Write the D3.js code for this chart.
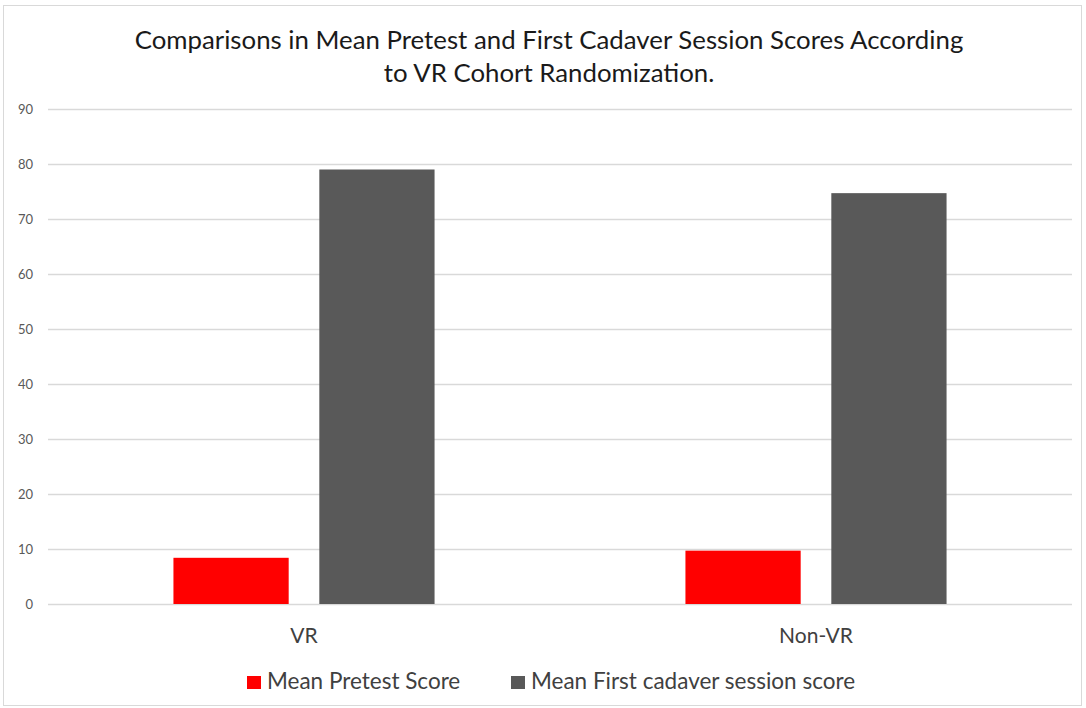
<!DOCTYPE html>
<html>
<head>
<meta charset="utf-8">
<script src="https://cdn.jsdelivr.net/npm/d3@7"></script>
<style>
  body { margin: 0; background: #fff; }
  text { font-family: Lato, "Open Sans", sans-serif; }
</style>
</head>
<body>
<div id="chart"></div>
<script>
// chart data
const groups = ["VR", "Non-VR"];
const seriesNames = ["Mean Pretest Score", "Mean First cadaver session score"];
const pretestScores = [8.4, 9.7];
const cadaverScores = [79.0, 74.7];
const yTicks = [0, 10, 20, 30, 40, 50, 60, 70, 80, 90];
const colors = ["#ff0000", "#595959"];

const width = 1086, height = 708;
const margin = {top: 109, right: 14, bottom: 104, left: 48};

const svg = d3.select('#chart').append('svg')
    .attr('width', width)
    .attr('height', height);

// outer chart frame
svg.append('rect')
    .attr('x', 3.5).attr('y', 5.5)
    .attr('width', 1078).attr('height', 700)
    .attr('fill', '#fff')
    .attr('stroke', '#d9d9d9');

const x0 = d3.scaleBand()
    .domain(groups)
    .range([margin.left, width - margin.right]);

const x1 = d3.scaleBand()
    .domain(seriesNames)
    .range([x0.bandwidth() * 0.245, x0.bandwidth() * 0.755])
    .paddingInner(0.21);

const y = d3.scaleLinear()
    .domain([0, 90])
    .range([height - margin.bottom, margin.top]);

// gridlines
svg.append('g')
    .selectAll('line')
    .data(yTicks)
    .enter().append('line')
    .attr('x1', margin.left)
    .attr('x2', width - margin.right)
    .attr('y1', d => y(d) + 0.5)
    .attr('y2', d => y(d) + 0.5)
    .attr('stroke', '#d9d9d9')
    .attr('stroke-width', 1.3);

// y axis labels
const yAxis = d3.axisLeft(y).tickValues(yTicks).tickSize(0).tickPadding(15);
svg.append('g')
    .attr('transform', `translate(${margin.left},0)`)
    .call(yAxis)
    .call(g => g.select('.domain').remove())
    .selectAll('text')
    .attr('fill', '#595959')
    .style('font-size', '13px')
    .style('font-family', 'Lato, "Open Sans", sans-serif');

// bars
const rows = groups.map((g, i) => ({group: g, values: [pretestScores[i], cadaverScores[i]]}));

svg.append('g')
    .selectAll('g')
    .data(rows)
    .enter().append('g')
    .attr('transform', d => `translate(${x0(d.group)},0)`)
    .selectAll('rect')
    .data(d => d.values.map((v, j) => ({key: seriesNames[j], value: v, idx: j})))
    .enter().append('rect')
    .attr('x', d => x1(d.key))
    .attr('width', x1.bandwidth())
    .attr('y', d => y(d.value))
    .attr('height', d => y(0) - y(d.value))
    .attr('fill', d => colors[d.idx]);

// category labels
svg.append('g')
    .selectAll('text')
    .data(groups)
    .enter().append('text')
    .attr('x', d => x0(d) + x0.bandwidth() / 2)
    .attr('y', 643)
    .attr('text-anchor', 'middle')
    .attr('fill', '#404040')
    .style('font-size', '21px')
    .text(d => d);

// title
const title = svg.append('text')
    .attr('x', 549)
    .attr('text-anchor', 'middle')
    .attr('fill', '#1a1a1a')
    .style('font-size', '25.8px');
title.append('tspan').attr('x', 549).attr('y', 49)
    .text('Comparisons in Mean Pretest and First Cadaver Session Scores According');
title.append('tspan').attr('x', 549).attr('y', 82)
    .text('to VR Cohort Randomization.');

// legend
const legendX = [247, 511];
const legend = svg.append('g')
    .selectAll('g')
    .data(seriesNames)
    .enter().append('g')
    .attr('transform', (d, i) => `translate(${legendX[i]},676)`);
legend.append('rect')
    .attr('width', 14).attr('height', 13)
    .attr('fill', (d, i) => colors[i]);
legend.append('text')
    .attr('x', 20).attr('y', 13)
    .attr('fill', '#404040')
    .style('font-size', '22.5px')
    .text(d => d);
</script>
</body>
</html>
